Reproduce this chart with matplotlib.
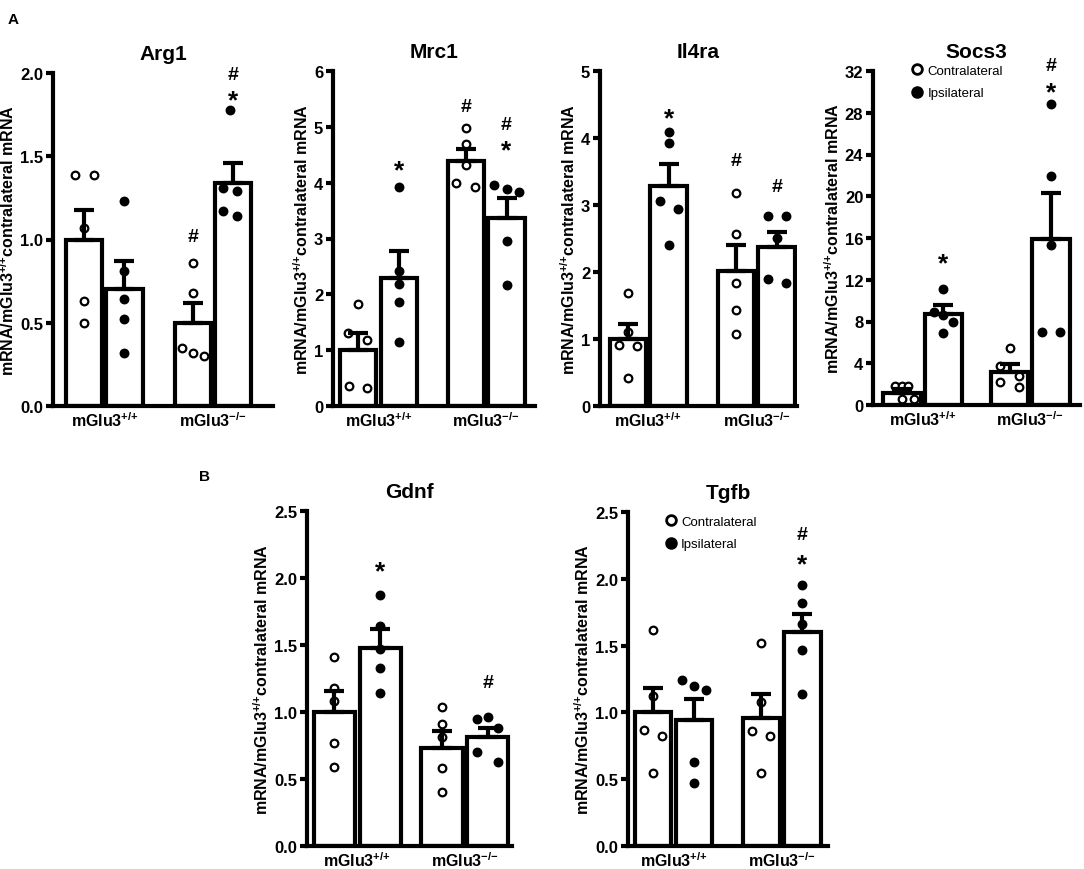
import matplotlib
matplotlib.use("Agg")
import numpy as np
import matplotlib.pyplot as plt
from matplotlib.lines import Line2D

plt.rcParams.update({
    "font.family": ["Liberation Sans", "DejaVu Sans"],
    "font.weight": "bold",
    "axes.titleweight": "bold",
    "axes.labelweight": "bold",
    "mathtext.fontset": "custom",
    "mathtext.rm": "Liberation Sans:bold",
    "mathtext.bf": "Liberation Sans:bold",
    "mathtext.default": "bf",
})

# ---- data ----
groups = ["mGlu3$^{{+}/{+}}$", "mGlu3$^{{-}/{-}}$"]
# bar order: WT contra, WT ipsi, KO contra, KO ipsi
arg1_mean = [1.00, 0.70, 0.50, 1.34]
arg1_sem = [0.18, 0.17, 0.12, 0.12]
arg1_pts = [[1.39, 1.39, 1.07, 0.63, 0.50],
            [1.23, 0.81, 0.64, 0.52, 0.32],
            [0.86, 0.68, 0.35, 0.32, 0.30],
            [1.78, 1.31, 1.29, 1.17, 1.14]]

mrc1_mean = [1.00, 2.30, 4.38, 3.36]
mrc1_sem = [0.31, 0.48, 0.22, 0.37]
mrc1_pts = [[1.83, 1.30, 1.18, 0.36, 0.32],
            [3.92, 2.41, 2.19, 1.87, 1.15],
            [4.98, 4.69, 4.31, 3.99, 3.92],
            [3.95, 3.88, 3.84, 2.95, 2.17]]

il4ra_mean = [1.00, 3.28, 2.01, 2.37]
il4ra_sem = [0.22, 0.33, 0.39, 0.23]
il4ra_pts = [[1.69, 1.10, 0.91, 0.90, 0.42],
             [4.09, 3.92, 3.06, 2.94, 2.41],
             [3.18, 2.57, 1.83, 1.44, 1.08],
             [2.83, 2.83, 2.51, 1.89, 1.83]]

socs3_mean = [1.15, 8.7, 3.15, 15.9]
socs3_sem = [0.35, 0.9, 0.75, 4.4]
socs3_pts = [[1.8, 1.8, 1.8, 0.55, 0.55],
             [11.1, 8.9, 8.6, 8.0, 6.9],
             [5.5, 3.7, 2.8, 2.2, 1.7],
             [28.8, 21.9, 15.3, 7.0, 7.0]]

gdnf_mean = [1.00, 1.48, 0.73, 0.81]
gdnf_sem = [0.16, 0.14, 0.13, 0.07]
gdnf_pts = [[1.41, 1.18, 1.08, 0.77, 0.59],
            [1.87, 1.64, 1.47, 1.33, 1.14],
            [1.04, 0.91, 0.81, 0.58, 0.40],
            [0.95, 0.96, 0.88, 0.70, 0.63]]

tgfb_mean = [1.00, 0.94, 0.96, 1.60]
tgfb_sem = [0.185, 0.16, 0.175, 0.14]
tgfb_pts = [[1.62, 1.12, 0.87, 0.82, 0.55],
            [1.24, 1.20, 1.17, 0.63, 0.47],
            [1.52, 1.08, 0.86, 0.82, 0.55],
            [1.95, 1.82, 1.66, 1.47, 1.14]]

# significance marks: (bar index, symbol, y)
arg1_sig = [(2, "#", 1.02), (3, "#", 1.99), (3, "*", 1.86)]
mrc1_sig = [(1, "*", 4.30), (2, "#", 5.37), (3, "#", 5.04), (3, "*", 4.65)]
il4ra_sig = [(1, "*", 4.35), (2, "#", 3.66), (3, "#", 3.28)]
socs3_sig = [(1, "*", 14.0), (3, "#", 32.5), (3, "*", 30.3)]
gdnf_sig = [(1, "*", 2.08), (3, "#", 1.22)]
tgfb_sig = [(3, "#", 2.33), (3, "*", 2.14)]

# ---- layout (pixels of the 1084x870 figure) ----
W, H = 1084, 870
# dot x offsets as fraction of bar width
offs_arg1 = [[-0.25, 0.27, 0, 0, 0], [0] * 5, [0, 0, -0.3, 0, 0.3], [-0.07, -0.28, 0.12, -0.28, 0.12]]
offs_mrc1 = [[0, -0.27, 0.25, -0.25, 0.25], [0] * 5, [0, 0, 0, -0.27, 0.25], [-0.33, 0, 0.33, 0, 0]]
offs_il4ra = [[0, 0, -0.25, 0.25, 0], [0, 0, -0.25, 0.25, 0], [0] * 5, [-0.25, 0.25, 0, -0.25, 0.25]]
offs_socs3 = [[-0.19, 0, 0.17, 0, 0.33], [0, -0.25, 0, 0.25, 0], [0, -0.25, 0.25, -0.25, 0.25], [0, 0, 0, -0.25, 0.25]]
offs_gdnf = [[0] * 5, [0] * 5, [0] * 5, [-0.25, 0, 0.25, -0.25, 0.25]]
offs_tgfb = [[0, 0, -0.25, 0.25, 0], [-0.33, 0, 0.33, 0, 0], [0, 0, -0.25, 0.25, 0], [0] * 5]

panels = [
    # title, mean, sem, pts, offs, sig, box(l, r, top, bottom), ylim, yticks, fmt, gap, xlim
    ("Arg1", arg1_mean, arg1_sem, arg1_pts, offs_arg1, arg1_sig, (53, 273, 74, 407),
     2.0, np.arange(0, 2.01, 0.5), "%.1f", 1.7, (-0.78, 4.7)),
    ("Mrc1", mrc1_mean, mrc1_sem, mrc1_pts, offs_mrc1, mrc1_sig, (333, 535, 72, 407),
     6, np.arange(0, 7, 1), "%d", 1.65, (-0.62, 4.35)),
    ("Il4ra", il4ra_mean, il4ra_sem, il4ra_pts, offs_il4ra, il4ra_sig, (600, 797, 72, 407),
     5, np.arange(0, 6, 1), "%d", 1.66, (-0.69, 4.16)),
    ("Socs3", socs3_mean, socs3_sem, socs3_pts, offs_socs3, socs3_sig, (873, 1080, 72, 406),
     32, np.arange(0, 33, 4), "%d", 1.6, (-0.7, 4.3)),
    ("Gdnf", gdnf_mean, gdnf_sem, gdnf_pts, offs_gdnf, gdnf_sig, (307, 512, 512, 847),
     2.5, np.arange(0, 2.51, 0.5), "%.1f", 1.35, (-0.6, 3.88)),
    ("Tgfb", tgfb_mean, tgfb_sem, tgfb_pts, offs_tgfb, tgfb_sig, (628, 828, 513, 847),
     2.5, np.arange(0, 2.51, 0.5), "%.1f", 1.64, (-0.61, 4.27)),
]

fig = plt.figure(figsize=(W / 100, H / 100), dpi=100)
bar_w = 0.9
ylabel = "mRNA/mGlu3$^{{+}/{+}}$contralateral mRNA"

for (title, mean, sem, pts, offs, sig, box, ymax, yticks, fmt, gap, xlim) in panels:
    l, r, t, b = box
    ax = fig.add_axes([l / W, 1 - b / H, (r - l) / W, (b - t) / H])
    pos = np.array([0, 1, 1 + gap, 2 + gap])

    ax.bar(pos, mean, width=bar_w, color="white", edgecolor="black", linewidth=3, zorder=1)
    for i in range(4):
        xs = pos[i] + np.array(offs[i]) * bar_w
        face = "white" if i % 2 == 0 else "black"
        ax.plot(xs, pts[i], "o", mfc=face, mec="black", mew=1.6, ms=5.5, zorder=2, clip_on=False)
    ax.errorbar(pos, mean, yerr=[np.zeros(4), sem], fmt="none", ecolor="black",
                elinewidth=3, capsize=7, capthick=3, zorder=3)
    for i, sym, y in sig:
        size = 19 if sym == "*" else 14
        dy = -0.012 * ymax if sym == "*" else 0
        ax.text(pos[i], y + dy, sym, ha="center", va="center", fontsize=size, fontweight="bold")

    ax.set_xlim(*xlim)
    ax.set_ylim(0, ymax)
    ax.set_yticks(yticks)
    ax.set_yticklabels([fmt % v for v in yticks])
    ax.set_xticks([0.5, 1.5 + gap])
    ax.set_xticklabels(groups)
    for s in ["top", "right"]:
        ax.spines[s].set_visible(False)
    for s in ["left", "bottom"]:
        ax.spines[s].set_linewidth(3)
    ax.tick_params(axis="y", direction="out", length=5, width=3, labelsize=12, pad=2)
    ax.tick_params(axis="x", length=0, labelsize=11.5, pad=3)
    ax.set_title(title, fontsize=15, pad=10)
    ax.set_ylabel(ylabel, fontsize=11.5, labelpad=2)

    if title in ("Socs3", "Tgfb"):
        handles = [
            Line2D([], [], marker="o", ls="none", mfc="white", mec="black", mew=2, ms=7),
            Line2D([], [], marker="o", ls="none", mfc="black", mec="black", ms=8),
        ]
        anchor = (0.18, 1.02) if title == "Socs3" else (0.18, 0.99)
        ax.legend(handles, ["Contralateral", "Ipsilateral"], loc="upper left",
                  bbox_to_anchor=anchor, frameon=False, borderpad=0, borderaxespad=0,
                  handlelength=1.0, handletextpad=0.3, labelspacing=0.8,
                  prop={"size": 9.5, "weight": "normal"})

fig.text(13 / W, 1 - 20 / H, "A", fontsize=11, fontweight="bold", ha="center", va="center")
fig.text(205 / W, 1 - 477 / H, "B", fontsize=11, fontweight="bold", ha="center", va="center")

fig.savefig("out.png", dpi=100)
